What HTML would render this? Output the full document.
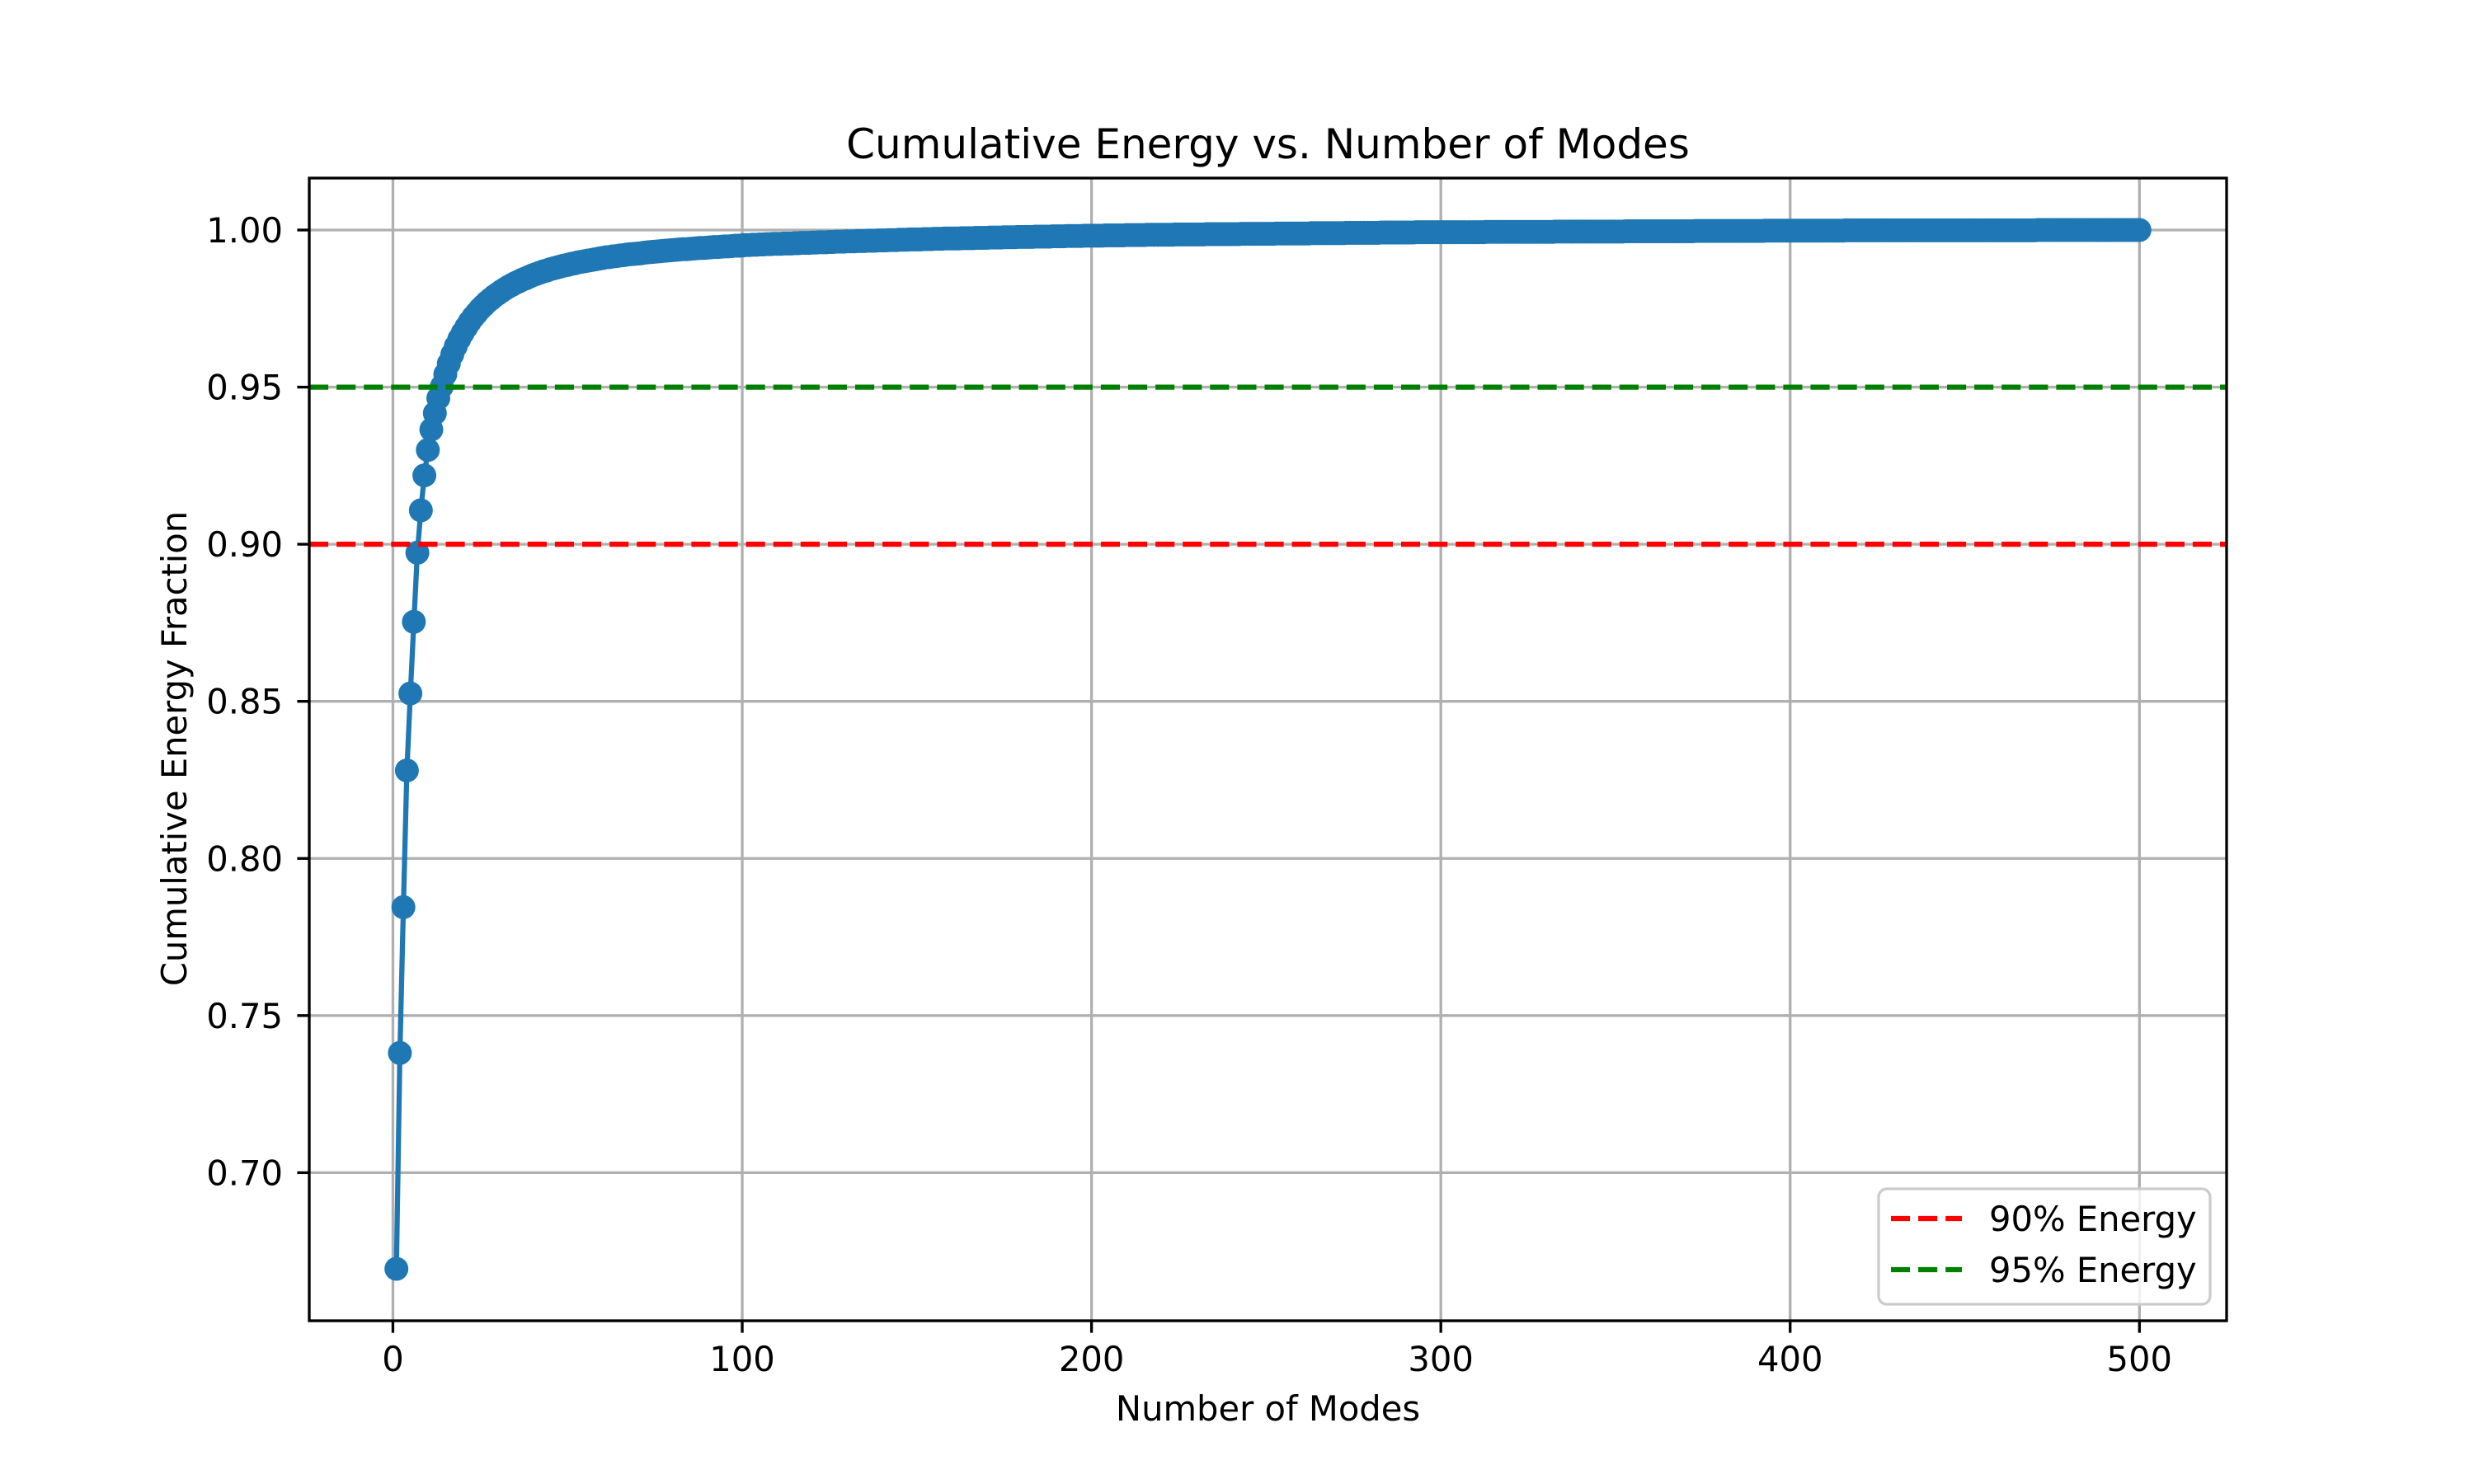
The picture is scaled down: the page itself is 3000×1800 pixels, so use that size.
<!DOCTYPE html>
<html>
<head>
<meta charset="utf-8">
<style>
html,body{margin:0;padding:0;background:#fff;}
svg{display:block;}
text{font-family:"DejaVu Sans","Liberation Sans",sans-serif;fill:#000;}
</style>
</head>
<body>
<svg id="chart" width="3000" height="1800" viewBox="0 0 3000 1800" xmlns="http://www.w3.org/2000/svg">
  <rect x="0" y="0" width="3000" height="1800" fill="#fff"/>
  <g id="grid"></g>
  <g id="series"></g>
  <g id="thresholds"></g>
  <g id="axes"></g>
  <text x="1537.5" y="192" font-size="50" text-anchor="middle">Cumulative Energy vs. Number of Modes</text>
  <text x="1537.5" y="1723" font-size="41.67" text-anchor="middle">Number of Modes</text>
  <text x="0" y="0" font-size="41.67" text-anchor="middle" transform="translate(226,908) rotate(-90)">Cumulative Energy Fraction</text>
  <g id="legend">
    <rect x="2278" y="1442" width="402" height="140" rx="10" ry="10" fill="#fff" fill-opacity="0.8" stroke="#cccccc" stroke-width="3.33"/>
    <g>
      <line x1="2293" y1="1478" x2="2379" y2="1478" stroke="#ff0000" stroke-width="6.25" stroke-dasharray="23.1 10"/>
      <text x="2412" y="1493" font-size="41.67">90% Energy</text>
    </g>
    <g>
      <line x1="2293" y1="1540" x2="2379" y2="1540" stroke="#008000" stroke-width="6.25" stroke-dasharray="23.1 10"/>
      <text x="2412" y="1555" font-size="41.67">95% Energy</text>
    </g>
  </g>
</svg>
<script>
const xTicks = [0, 100, 200, 300, 400, 500];
const xTickLabels = ["0", "100", "200", "300", "400", "500"];
const yTicks = [0.70, 0.75, 0.80, 0.85, 0.90, 0.95, 1.00];
const yTickLabels = ["0.70", "0.75", "0.80", "0.85", "0.90", "0.95", "1.00"];
const thresholds = [0.90, 0.95];
const thresholdColors = ["#ff0000", "#008000"];
const energy = [
0.6694,0.7381,0.7845,0.8280,0.8525,0.8753,0.8973,0.9108,0.9219,0.9300,
0.9365,0.9417,0.9465,0.9502,0.9541,0.9575,0.9604,0.9630,0.9653,0.9673,
0.9691,0.9708,0.9723,0.9736,0.9749,0.9760,0.9771,0.9780,0.9789,0.9797,
0.9805,0.9812,0.9819,0.9825,0.9831,0.9836,0.9842,0.9846,0.9851,0.9856,
0.9860,0.9864,0.9868,0.9871,0.9875,0.9878,0.9881,0.9884,0.9887,0.9889,
0.9892,0.9894,0.9897,0.9899,0.9901,0.9903,0.9905,0.9907,0.9909,0.9911,
0.9913,0.9914,0.9916,0.9917,0.9919,0.9920,0.9922,0.9923,0.9924,0.9925,
0.9926,0.9928,0.9929,0.9930,0.9931,0.9932,0.9933,0.9934,0.9935,0.9936,
0.9937,0.9938,0.9939,0.9939,0.9940,0.9941,0.9942,0.9943,0.9943,0.9944,
0.9945,0.9946,0.9946,0.9947,0.9948,0.9948,0.9949,0.9950,0.9950,0.9951,
0.9952,0.9952,0.9953,0.9953,0.9954,0.9954,0.9955,0.9955,0.9956,0.9956,
0.9956,0.9957,0.9957,0.9957,0.9958,0.9958,0.9959,0.9959,0.9959,0.9960,
0.9960,0.9961,0.9961,0.9961,0.9962,0.9962,0.9963,0.9963,0.9963,0.9964,
0.9964,0.9964,0.9965,0.9965,0.9965,0.9966,0.9966,0.9966,0.9967,0.9967,
0.9967,0.9968,0.9968,0.9968,0.9969,0.9969,0.9969,0.9970,0.9970,0.9970,
0.9970,0.9971,0.9971,0.9971,0.9972,0.9972,0.9972,0.9973,0.9973,0.9973,
0.9973,0.9973,0.9974,0.9974,0.9974,0.9974,0.9975,0.9975,0.9975,0.9975,
0.9976,0.9976,0.9976,0.9976,0.9977,0.9977,0.9977,0.9977,0.9978,0.9978,
0.9978,0.9978,0.9978,0.9979,0.9979,0.9979,0.9979,0.9979,0.9980,0.9980,
0.9980,0.9980,0.9981,0.9981,0.9981,0.9981,0.9981,0.9982,0.9982,0.9982,
0.9982,0.9982,0.9982,0.9983,0.9983,0.9983,0.9983,0.9983,0.9983,0.9984,
0.9984,0.9984,0.9984,0.9984,0.9984,0.9985,0.9985,0.9985,0.9985,0.9985,
0.9985,0.9985,0.9985,0.9986,0.9986,0.9986,0.9986,0.9986,0.9986,0.9986,
0.9986,0.9986,0.9987,0.9987,0.9987,0.9987,0.9987,0.9987,0.9987,0.9987,
0.9987,0.9987,0.9988,0.9988,0.9988,0.9988,0.9988,0.9988,0.9988,0.9988,
0.9988,0.9988,0.9989,0.9989,0.9989,0.9989,0.9989,0.9989,0.9989,0.9989,
0.9989,0.9989,0.9990,0.9990,0.9990,0.9990,0.9990,0.9990,0.9990,0.9990,
0.9990,0.9990,0.9991,0.9991,0.9991,0.9991,0.9991,0.9991,0.9991,0.9991,
0.9991,0.9991,0.9992,0.9992,0.9992,0.9992,0.9992,0.9992,0.9992,0.9992,
0.9992,0.9992,0.9993,0.9993,0.9993,0.9993,0.9993,0.9993,0.9993,0.9993,
0.9993,0.9993,0.9993,0.9993,0.9993,0.9993,0.9993,0.9993,0.9993,0.9993,
0.9993,0.9993,0.9994,0.9994,0.9994,0.9994,0.9994,0.9994,0.9994,0.9994,
0.9994,0.9994,0.9994,0.9994,0.9994,0.9994,0.9994,0.9994,0.9994,0.9994,
0.9994,0.9994,0.9995,0.9995,0.9995,0.9995,0.9995,0.9995,0.9995,0.9995,
0.9995,0.9995,0.9995,0.9995,0.9995,0.9995,0.9995,0.9995,0.9995,0.9995,
0.9995,0.9995,0.9996,0.9996,0.9996,0.9996,0.9996,0.9996,0.9996,0.9996,
0.9996,0.9996,0.9996,0.9996,0.9996,0.9996,0.9996,0.9996,0.9996,0.9996,
0.9996,0.9996,0.9997,0.9997,0.9997,0.9997,0.9997,0.9997,0.9997,0.9997,
0.9997,0.9997,0.9997,0.9997,0.9997,0.9997,0.9997,0.9997,0.9997,0.9997,
0.9997,0.9997,0.9998,0.9998,0.9998,0.9998,0.9998,0.9998,0.9998,0.9998,
0.9998,0.9998,0.9998,0.9998,0.9998,0.9998,0.9998,0.9998,0.9998,0.9998,
0.9998,0.9998,0.9998,0.9998,0.9998,0.9999,0.9999,0.9999,0.9999,0.9999,
0.9999,0.9999,0.9999,0.9999,0.9999,0.9999,0.9999,0.9999,0.9999,0.9999,
0.9999,0.9999,0.9999,0.9999,0.9999,0.9999,0.9999,0.9999,0.9999,0.9999,
0.9999,0.9999,0.9999,0.9999,0.9999,0.9999,0.9999,0.9999,0.9999,0.9999,
0.9999,0.9999,0.9999,0.9999,0.9999,0.9999,0.9999,0.9999,0.9999,0.9999,
0.9999,0.9999,0.9999,0.9999,0.9999,0.9999,0.9999,0.9999,0.9999,0.9999,
1.0000,1.0000,1.0000,1.0000,1.0000,1.0000,1.0000,1.0000,1.0000,1.0000,
1.0000,1.0000,1.0000,1.0000,1.0000,1.0000,1.0000,1.0000,1.0000,1.0000,
1.0000,1.0000,1.0000,1.0000,1.0000,1.0000,1.0000,1.0000,1.0000,1.0000
];

const NS = "http://www.w3.org/2000/svg";
const L = 375, R = 2700, T = 216, B = 1602;
const n = energy.length;
const xMinD = 1, xMaxD = n;
const xPad = (xMaxD - xMinD) * 0.05;
const xMin = xMinD - xPad, xMax = xMaxD + xPad;
const yLo = Math.min(...energy, ...thresholds), yHi = Math.max(...energy, ...thresholds);
const yPad = (yHi - yLo) * 0.05;
const yMin = yLo - yPad, yMax = yHi + yPad;
function xs(v){ return L + (v - xMin) / (xMax - xMin) * (R - L); }
function ys(v){ return B - (v - yMin) / (yMax - yMin) * (B - T); }
function mk(tag, attrs, parent){
  const e = document.createElementNS(NS, tag);
  for (const k in attrs) e.setAttribute(k, attrs[k]);
  parent.appendChild(e);
  return e;
}
const grid = document.getElementById('grid');
const axes = document.getElementById('axes');
const series = document.getElementById('series');
const thr = document.getElementById('thresholds');

xTicks.forEach((t, i) => {
  const x = xs(t);
  const g = mk('line', {x1:x, y1:T, x2:x, y2:B, stroke:'#b0b0b0', 'stroke-width':3.33}, grid);
  
  
  const tk = mk('line', {x1:x, y1:B, x2:x, y2:B+14.6, stroke:'#000', 'stroke-width':3.33}, axes);
  
  
  const tx = mk('text', {x:x, y:1663, 'font-size':41.67, 'text-anchor':'middle'}, axes);
  tx.textContent = xTickLabels[i];
  
  
});
yTicks.forEach((t, i) => {
  const y = ys(t);
  const g = mk('line', {x1:L, y1:y, x2:R, y2:y, stroke:'#b0b0b0', 'stroke-width':3.33}, grid);
  
  
  const tk = mk('line', {x1:L-14.6, y1:y, x2:L, y2:y, stroke:'#000', 'stroke-width':3.33}, axes);
  
  
  const tx = mk('text', {x:343, y:y+15, 'font-size':41.67, 'text-anchor':'end'}, axes);
  tx.textContent = yTickLabels[i];
  
  
});

let d = '';
energy.forEach((v, i) => { d += (i ? 'L' : 'M') + xs(i + 1).toFixed(2) + ' ' + ys(v).toFixed(2); });
const line = mk('path', {d:d, fill:'none', stroke:'#1f77b4', 'stroke-width':6.25, 'stroke-linejoin':'round'}, series);


energy.forEach((v, i) => {
  const c = mk('circle', {cx:xs(i + 1).toFixed(2), cy:ys(v).toFixed(2), r:14.5, fill:'#1f77b4'}, series);
  
  
});

thresholds.forEach((t, i) => {
  const y = ys(t);
  const h = mk('line', {x1:L, y1:y, x2:R, y2:y, stroke:thresholdColors[i], 'stroke-width':6.25, 'stroke-dasharray':'23.1 10'}, thr);
  
  
});

const frame = mk('rect', {x:L, y:T, width:R-L, height:B-T, fill:'none', stroke:'#000', 'stroke-width':3.33}, axes);


</script>
</body>
</html>
